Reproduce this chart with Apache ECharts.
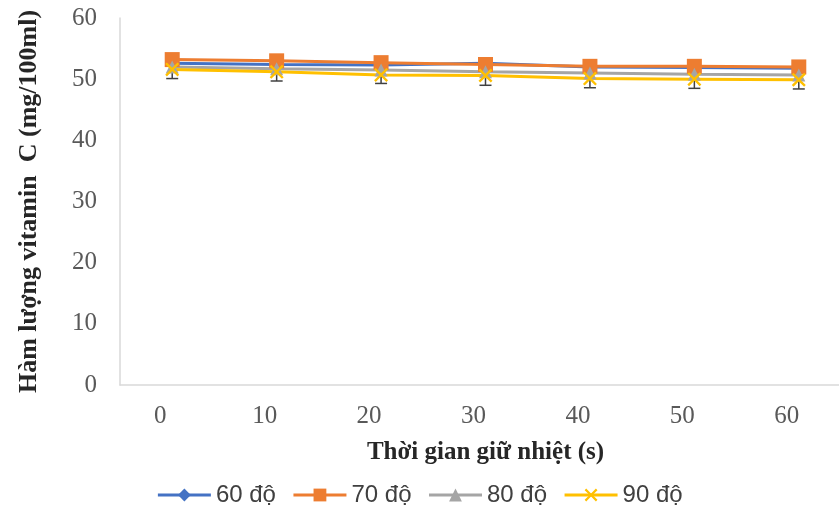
<!DOCTYPE html>
<html>
<head>
<meta charset="utf-8">
<script src="https://cdn.jsdelivr.net/npm/echarts@6/dist/echarts.min.js"></script>
<style>html,body{margin:0;padding:0;background:#fff}#c{width:839px;height:513px}</style>
</head>
<body>
<div id="c"></div>
<script>
const categories = ['0', '10', '20', '30', '40', '50', '60'];
const s60 = [52.6, 52.4, 52.3, 52.6, 52.0, 51.9, 51.8];
const s70 = [53.2, 53.0, 52.7, 52.4, 52.1, 52.1, 52.0];
const s80 = [52.0, 51.7, 51.5, 51.2, 51.0, 50.8, 50.7];
const s90 = [51.6, 51.2, 50.7, 50.6, 50.1, 50.0, 49.9];
const err90 = [1.5, 1.5, 1.4, 1.6, 1.5, 1.5, 1.5];
const yTicks = [0, 10, 20, 30, 40, 50, 60];

const chart = echarts.init(document.getElementById('c'), null, {renderer: 'canvas'});
const xPath = 'path://M0,1.2 L1.2,0 L5,3.8 L8.8,0 L10,1.2 L6.2,5 L10,8.8 L8.8,10 L5,6.2 L1.2,10 L0,8.8 L3.8,5 Z';

function mk(name, data, color, symbol, size) {
  return {
    name, type: 'line', data, symbol, symbolSize: size,
    lineStyle: {color, width: 3}, itemStyle: {color, borderWidth: 0},
    emphasis: {disabled: true}, animation: false, z: 3
  };
}

chart.setOption({
  animation: false,
  grid: {left: 120, top: 18, bottom: 128, right: -12, containLabel: false, outerBoundsMode: 'none'},
  xAxis: {
    type: 'category', data: categories, boundaryGap: true,
    name: 'Thời gian giữ nhiệt (s)', nameLocation: 'middle', nameGap: 55,
    nameTextStyle: {fontFamily: 'Liberation Serif', fontWeight: 'bold', fontSize: 25, color: '#262626'},
    axisLine: {lineStyle: {color: '#d9d9d9', width: 1.5}},
    axisTick: {show: false},
    axisLabel: {fontFamily: 'Liberation Serif', fontSize: 25, color: '#595959', margin: 19, padding: [0, 24, 0, 0]},
    splitLine: {show: false}
  },
  yAxis: {
    type: 'value', min: 0, max: 60, interval: 10,
    name: 'Hàm lượng vitamin  C (mg/100ml)', nameLocation: 'middle', nameGap: 78,
    nameTextStyle: {fontFamily: 'Liberation Serif', fontWeight: 'bold', fontSize: 26, color: '#262626'},
    axisLine: {show: true, lineStyle: {color: '#d9d9d9', width: 1.5}},
    axisTick: {show: false},
    axisLabel: {fontFamily: 'Liberation Serif', fontSize: 25, color: '#595959', margin: 23,
      formatter: v => yTicks.includes(v) ? String(v) : ''},
    splitLine: {show: false}
  },
  legend: {
    top: 478, left: 'center', itemWidth: 53, itemHeight: 16, itemGap: 16,
    lineStyle: {width: 3},
    textStyle: {fontFamily: 'Liberation Sans', fontSize: 24, color: '#404040'},
    data: ['60 độ', '70 độ', '80 độ', '90 độ']
  },
  series: [
    {
      type: 'custom', name: 'err', silent: true, z: 1,
      data: s90.map((v, i) => [i, v - err90[i], v + err90[i]]),
      renderItem: (params, api) => {
        const lo = api.coord([api.value(0), api.value(1)]);
        const hi = api.coord([api.value(0), api.value(2)]);
        const w = 6;
        const st = {stroke: '#404040', lineWidth: 1.5};
        return {type: 'group', children: [
          {type: 'line', shape: {x1: lo[0], y1: lo[1], x2: hi[0], y2: hi[1]}, style: st},
          {type: 'line', shape: {x1: lo[0]-w, y1: lo[1], x2: lo[0]+w, y2: lo[1]}, style: st},
          {type: 'line', shape: {x1: hi[0]-w, y1: hi[1], x2: hi[0]+w, y2: hi[1]}, style: st}
        ]};
      }
    },
    mk('60 độ', s60, '#4472C4', 'diamond', 12),
    mk('70 độ', s70, '#ED7D31', 'rect', 15),
    mk('80 độ', s80, '#A5A5A5', 'triangle', 13),
    mk('90 độ', s90, '#FFC000', xPath, 14)
  ]
});
</script>
</body>
</html>
